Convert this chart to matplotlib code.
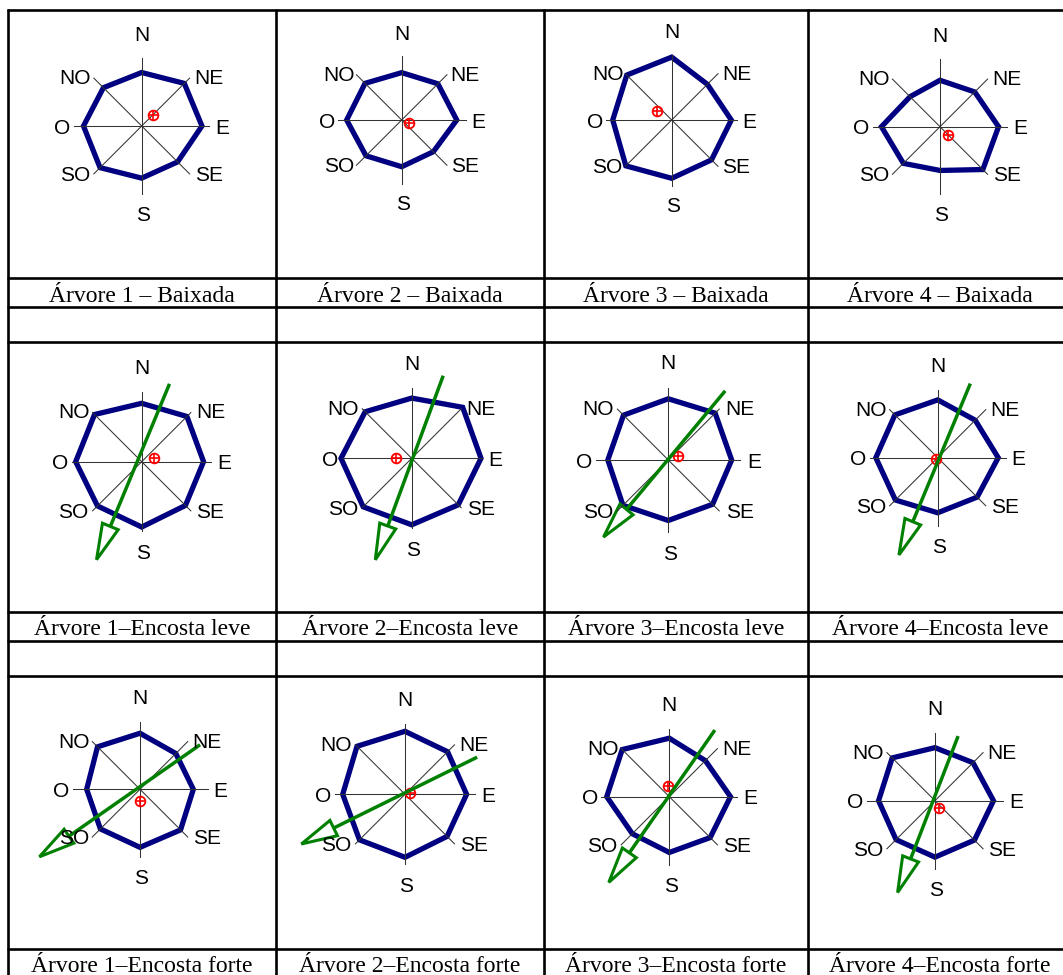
import numpy as np
import matplotlib.pyplot as plt
from matplotlib.patches import Polygon

# direcoes da rosa (sentido horario a partir do norte)
direcoes = ["N", "NE", "E", "SE", "S", "SO", "O", "NO"]
arvores = ["Árvore 1", "Árvore 2", "Árvore 3", "Árvore 4"]
situacoes = [" – Baixada", "–Encosta leve", "–Encosta forte"]

# raios relativos por direcao (N, NE, E, SE, S, SO, O, NO)
raios_baixada = [
    [0.79, 0.89, 0.89, 0.75, 0.77, 0.87, 0.86, 0.80],
    [0.74, 0.80, 0.86, 0.70, 0.73, 0.79, 0.86, 0.81],
    [0.96, 0.77, 0.91, 0.86, 0.89, 0.99, 0.90, 0.97],
    [0.69, 0.73, 0.87, 0.90, 0.65, 0.77, 0.87, 0.63],
]
raios_leve = [
    [0.84, 0.92, 0.89, 0.89, 0.94, 0.90, 0.95, 0.96],
    [0.86, 1.03, 0.99, 0.94, 0.95, 0.98, 1.01, 0.94],
    [0.85, 0.92, 0.88, 0.87, 0.84, 0.89, 0.84, 0.88],
    [0.85, 0.78, 0.89, 0.82, 0.81, 0.88, 0.91, 0.89],
]
raios_forte = [
    [0.83, 0.75, 0.79, 0.85, 0.86, 0.83, 0.79, 0.89],
    [0.90, 0.86, 0.88, 0.85, 0.90, 0.92, 0.89, 0.97],
    [0.86, 0.75, 0.90, 0.85, 0.82, 0.77, 0.92, 0.98],
    [0.78, 0.79, 0.86, 0.82, 0.83, 0.81, 0.83, 0.89],
]

# centro de massa da copa (x, y)
centro_baixada = [(0.16, 0.16), (0.12, -0.04), (-0.23, 0.13), (0.12, -0.12)]
centro_leve = [(0.17, 0.05), (-0.23, 0.00), (0.14, 0.06), (-0.02, -0.02)]
centro_forte = [(0.00, -0.17), (0.07, 0.02), (-0.02, 0.16), (0.06, -0.10)]

# direcao da declividade: (inicio), (ponta)
seta_leve = [
    ((0.40, 1.12), (-0.65, -1.41)),
    ((0.45, 1.18), (-0.52, -1.45)),
    ((0.79, 0.96), (-0.90, -1.07)),
    ((0.48, 1.09), (-0.57, -1.43)),
]
seta_forte = [
    ((0.89, 0.66), (-1.49, -1.00)),
    ((1.03, 0.53), (-1.48, -0.71)),
    ((0.67, 0.98), (-0.89, -1.26)),
    ((0.34, 0.95), (-0.55, -1.35)),
]

raios = [raios_baixada, raios_leve, raios_forte]
centros = [centro_baixada, centro_leve, centro_forte]
setas = [None, seta_leve, seta_forte]

# layout da tabela (pixels)
W, H = 1063, 975
linhas_y = [10, 277.5, 306.5, 341.5, 611.5, 640.5, 675.5, 948.5]
colunas_x = [8, 275.5, 544, 808]
meio_col = [141.75, 409.75, 676, 940]
base_legenda = [301.5, 635, 972]
centros_px = [
    [(141.7, 126), (401.7, 120), (671.7, 120), (940, 126.7)],
    [(141.7, 461.7), (411.7, 458.3), (668.3, 460), (937.7, 457.7)],
    [(140, 789.3), (405, 794.3), (669.3, 796.7), (935, 800.7)],
]
escala_px = [
    [67.7, 64, 65.5, 67.3],
    [69.5, 70, 72, 68],
    [67.5, 70, 68, 68],
]
pos_rotulos = [(0, 1.37), (0.99, 0.73), (1.19, 0), (0.99, -0.70),
               (0.02, -1.29), (-0.98, -0.70), (-1.17, 0), (-0.98, 0.73)]

fig = plt.figure(figsize=(W / 100, H / 100), dpi=100)
base = fig.add_axes([0, 0, 1, 1])
base.set_xlim(0, W)
base.set_ylim(H, 0)
base.axis("off")
for y in linhas_y:
    base.plot([colunas_x[0] - 1, W], [y, y], color="black", lw=1.9, solid_capstyle="butt")
for x in colunas_x:
    base.plot([x, x], [linhas_y[0] - 1, H], color="black", lw=1.9, solid_capstyle="butt")

for i in range(3):
    for j in range(4):
        base.text(meio_col[j], base_legenda[i], arvores[j] + situacoes[i],
                  ha="center", va="baseline", fontsize=17, family="Liberation Serif")

ang = np.deg2rad(90 - 45 * np.arange(8))


def rosa(cx, cy, L, r, centro, seta):
    meia = 135
    ax = fig.add_axes([(cx - meia) / W, (H - cy - meia) / H, 2 * meia / W, 2 * meia / H])
    lim = meia / L
    ax.set_xlim(-lim, lim)
    ax.set_ylim(-lim, lim)
    ax.axis("off")
    for a in ang:
        ax.plot([0, np.cos(a)], [0, np.sin(a)], color="#333333", lw=0.75)
    r = np.array(r)
    xy = np.column_stack([r * np.cos(ang), r * np.sin(ang)])
    ax.add_patch(Polygon(xy, closed=True, fill=False, ec="#000080", lw=3.8, joinstyle="miter"))
    for nome, (px, py) in zip(direcoes, pos_rotulos):
        ax.text(px, py, nome, ha="center", va="center_baseline", fontsize=15,
                family="Liberation Sans")
    ax.plot(centro[0], centro[1], "o", ms=7, mfc="none", mec="red", mew=1.3)
    ax.plot(centro[0], centro[1], "+", ms=7, mew=1.2, color="red")
    if seta is not None:
        (tx, ty), (hx, hy) = seta
        d = np.array([hx - tx, hy - ty])
        d = d / np.hypot(d[0], d[1])
        n = np.array([-d[1], d[0]])
        ponta = np.array([hx, hy])
        b = ponta - (36 / L) * d
        larg = 8.5 / L
        ax.plot([tx, b[0]], [ty, b[1]], color="#008000", lw=2.5, solid_capstyle="butt")
        ax.add_patch(Polygon([b + larg * n, ponta, b - larg * n], closed=True, fill=False,
                             ec="#008000", lw=2.2, joinstyle="miter"))


for i in range(3):
    for j in range(4):
        cx, cy = centros_px[i][j]
        s = setas[i][j] if setas[i] is not None else None
        rosa(cx, cy, escala_px[i][j], raios[i][j], centros[i][j], s)

plt.savefig("out.png", dpi=100)
